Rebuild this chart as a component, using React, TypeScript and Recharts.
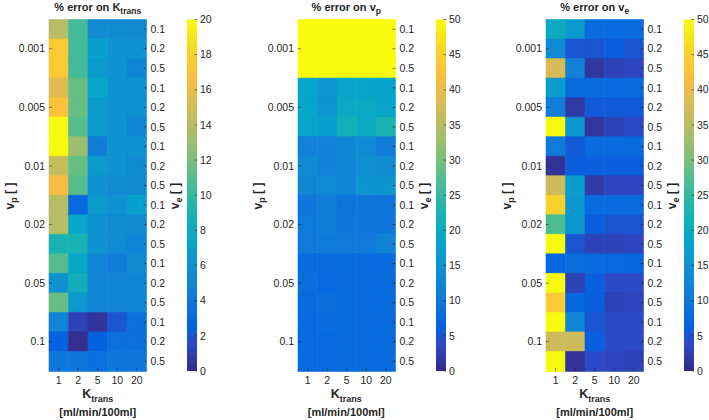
import React from "react";
import { BarChart, Bar, XAxis, YAxis, Cell } from "recharts";

// axis categories
const vpLabels = ["0.001", "0.005", "0.01", "0.02", "0.05", "0.1"];
const veLabels = ["0.1", "0.2", "0.5"];
const ktransLabels = ["1", "2", "5", "10", "20"];

// % error, one row per (vp, ve), columns = Ktrans 1,2,5,10,20
const ktransErr = [
  [14, 10.5, 5.5, 5.5, 5.5],
  [17.5, 10.5, 7, 6, 6],
  [17.5, 10.5, 6.5, 6, 5],
  [15.5, 11.5, 7.5, 6, 6],
  [17, 11.5, 6.5, 6, 6],
  [20, 11, 6.5, 6, 5],
  [20, 13, 4.5, 6, 6],
  [14.5, 11.5, 6.5, 6, 5.5],
  [16.5, 11, 6, 5.5, 5.5],
  [14, 3, 6.5, 6, 7],
  [14, 7.5, 6, 5.5, 5.5],
  [9, 9, 6, 5.5, 5],
  [11, 7.5, 5, 4.5, 5.5],
  [6, 8.5, 5, 5, 5],
  [11.5, 6.5, 5, 5, 5],
  [5, 1.2, 0.5, 2, 3.5],
  [2.5, 0.2, 2.5, 3.5, 3.5],
  [4, 4, 3.5, 4, 4],
];

const vpErr = [
  [50, 50, 50, 50, 50],
  [50, 50, 50, 50, 50],
  [50, 50, 50, 50, 50],
  [18.5, 15.5, 18.5, 18.5, 18],
  [18.5, 15.5, 19.5, 19.5, 18.5],
  [18.5, 17.5, 21.5, 19.5, 22.5],
  [12, 12, 13, 13.5, 11],
  [13.5, 12, 12.5, 14.5, 14],
  [13, 13.5, 12.5, 15.5, 15.5],
  [10, 11, 9, 10, 9.5],
  [10.5, 11, 10, 10, 10],
  [10.5, 10.5, 10.5, 10.5, 12],
  [8, 8, 8, 8, 8],
  [8.5, 7.5, 8, 8, 8],
  [8, 8.5, 8, 8, 8],
  [7.5, 8, 8, 8, 8],
  [7.5, 7.5, 8, 8, 8],
  [7.5, 7.5, 8, 8, 8],
];

const veErr = [
  [20, 16.5, 8, 8, 8],
  [13.5, 5, 5, 6, 5],
  [38, 12, 1.5, 3, 3.5],
  [17, 8, 8, 8, 8],
  [11, 2, 5.5, 5.5, 5.5],
  [50, 16, 1.5, 3, 4],
  [10.5, 5.5, 8, 8, 8],
  [1, 6, 6, 6, 6],
  [37, 17, 2, 3.5, 3.5],
  [45, 16, 8, 8, 8],
  [27, 16, 6, 5, 5],
  [50, 5, 3, 3, 3.5],
  [7, 8.5, 8, 7.5, 7],
  [50, 3, 6, 4, 4],
  [44, 7, 6, 3, 3.5],
  [50, 12.5, 5, 4, 4],
  [37, 37, 6, 4, 4],
  [50, 1, 4, 3.5, 3],
];

// colorbar ticks
const ticks20 = [0, 2, 4, 6, 8, 10, 12, 14, 16, 18, 20];
const ticks50 = [0, 5, 10, 15, 20, 25, 30, 35, 40, 45, 50];

// parula colormap stops (index out of 63, rgb)
const PARULA: [number, number[]][] = [
  [0, [53, 42, 135]],
  [5, [44, 74, 199]],
  [8, [3, 99, 225]],
  [13, [16, 121, 218]],
  [18, [16, 142, 210]],
  [23, [6, 164, 202]],
  [28, [21, 177, 180]],
  [33, [66, 187, 152]],
  [38, [124, 191, 123]],
  [43, [174, 190, 103]],
  [48, [217, 186, 86]],
  [53, [253, 190, 61]],
  [58, [247, 216, 38]],
  [63, [249, 251, 14]],
];

function parula(t: number) {
  const p = Math.max(0, Math.min(1, t)) * 63;
  let k = 0;
  while (k < PARULA.length - 2 && PARULA[k + 1][0] < p) k++;
  const [a, ca] = PARULA[k];
  const [b, cb] = PARULA[k + 1];
  const f = (p - a) / (b - a);
  const c = ca.map((v, i) => Math.round(v + (cb[i] - v) * f));
  return `rgb(${c[0]},${c[1]},${c[2]})`;
}

const rows = vpLabels.flatMap((vp, i) =>
  veLabels.map((ve, j) => ({ id: `${i}-${j}`, vp, ve, c0: 1, c1: 1, c2: 1, c3: 1, c4: 1 }))
);
const rowById: Record<string, { vp: string; ve: string }> = {};
rows.forEach((r) => (rowById[r.id] = r));

const INK = "#262626";
const FONT = "'Liberation Sans', Arial, sans-serif";
const TOP = 19.5;
const BOTTOM = 371;

const LeftTick = (props: any) => {
  const { x, y, payload } = props;
  const r = rowById[payload.value];
  if (!r || r.ve !== veLabels[1]) return <g />;
  return (
    <g>
      <text x={x} y={y} dy="0.35em" textAnchor="end" fontSize={10.5} fill={INK}>{r.vp}</text>
      <line x1={x + 4} x2={x + 7} y1={y} y2={y} stroke={INK} strokeWidth={0.6} />
    </g>
  );
};

const RightTick = (props: any) => {
  const { x, y, payload } = props;
  const r = rowById[payload.value];
  if (!r) return <g />;
  return (
    <g>
      <text x={x} y={y} dy="0.35em" textAnchor="start" fontSize={10.5} fill={INK}>{r.ve}</text>
      <line x1={x - 4} x2={x - 7} y1={y} y2={y} stroke={INK} strokeWidth={0.6} />
    </g>
  );
};

const BottomTick = (props: any) => {
  const { x, y, payload } = props;
  return (
    <g>
      <text x={x} y={y} dy="0.71em" textAnchor="middle" fontSize={10.5} fill={INK}>
        {ktransLabels[Math.floor(payload.value)]}
      </text>
      <line x1={x} x2={x} y1={y - 5.5} y2={y - 8.5} stroke={INK} strokeWidth={0.6} />
    </g>
  );
};

const TopTick = (props: any) => {
  const { x, y } = props;
  return <line x1={x} x2={x} y1={y} y2={y + 3} stroke={INK} strokeWidth={0.6} />;
};

const CbTick = (props: any) => {
  const { x, y, payload } = props;
  return (
    <g>
      <text x={x} y={y} dy="0.35em" textAnchor="start" fontSize={10.5} fill={INK}>{payload.value}</text>
      <line x1={x - 3} x2={x - 5.5} y1={y} y2={y} stroke={INK} strokeWidth={0.6} />
    </g>
  );
};

const colTicks = [0.5, 1.5, 2.5, 3.5, 4.5];

function Heatmap({ ox, values, max }: { ox: number; values: number[][]; max: number }) {
  return (
    <div style={{ position: "absolute", left: ox, top: 0 }}>
      <BarChart
        width={200}
        height={420}
        data={rows}
        layout="vertical"
        barCategoryGap={0}
        barGap={0}
        margin={{ top: TOP, bottom: 420 - BOTTOM - 20, left: 5, right: 23.5 }}
      >
        <XAxis xAxisId="b" type="number" domain={[0, 5]} ticks={colTicks} interval={0} height={20}
          tickSize={0} tickMargin={5.5} axisLine={false} tickLine={false} tick={<BottomTick />} />
        <XAxis xAxisId="t" orientation="top" type="number" domain={[0, 5]} ticks={colTicks} interval={0} height={0}
          tickSize={0} tickMargin={0} axisLine={false} tickLine={false} tick={<TopTick />} />
        <YAxis yAxisId="vp" type="category" dataKey="id" width={44} interval={0}
          tickSize={0} tickMargin={4} axisLine={false} tickLine={false} tick={<LeftTick />} />
        <YAxis yAxisId="ve" orientation="right" type="category" dataKey="id" width={30} interval={0}
          tickSize={0} tickMargin={4} axisLine={false} tickLine={false} tick={<RightTick />} />
        {ktransLabels.map((k, j) => (
          <Bar key={k} dataKey={`c${j}`} stackId="s" xAxisId="b" yAxisId="vp" isAnimationActive={false}>
            {rows.map((r, i) => {
              const fill = parula(values[i][j] / max);
              return <Cell key={r.id} fill={fill} stroke={fill} strokeWidth={0.6} />;
            })}
          </Bar>
        ))}
      </BarChart>
    </div>
  );
}

function ColorBar({ ox, max, ticks, gid }: { ox: number; max: number; ticks: number[]; gid: string }) {
  return (
    <div style={{ position: "absolute", left: ox + 187, top: 0 }}>
      <BarChart width={40} height={420} data={[{ k: "c", v: max }]} barCategoryGap={0}
        margin={{ top: TOP, bottom: 420 - BOTTOM, left: 0, right: 0 }}>
        <defs>
          <linearGradient id={gid} x1="0" y1="1" x2="0" y2="0">
            {PARULA.map(([p, c]) => (
              <stop key={p} offset={p / 63} stopColor={`rgb(${c[0]},${c[1]},${c[2]})`} />
            ))}
          </linearGradient>
        </defs>
        <XAxis dataKey="k" type="category" hide />
        <YAxis orientation="right" type="number" width={30} domain={[0, max]} ticks={ticks} interval={0}
          tickSize={0} tickMargin={3} axisLine={false} tickLine={false} tick={<CbTick />} />
        <Bar dataKey="v" fill={`url(#${gid})`} isAnimationActive={false} />
      </BarChart>
    </div>
  );
}

const sub = (s: string, size = 8.5, top = 3) => (
  <span style={{ fontSize: size, position: "relative", top }}>{s}</span>
);

function Labels({ ox, what }: { ox: number; what: React.ReactNode }) {
  const bold: React.CSSProperties = { position: "absolute", fontWeight: "bold", color: INK, whiteSpace: "nowrap", lineHeight: 1 };
  return (
    <>
      <div style={{ ...bold, left: ox + 49, width: 97.5, top: 1.5, textAlign: "center", fontSize: 11 }}>
        % error on {what}
      </div>
      <div style={{ ...bold, left: ox + 9.5, top: 196, fontSize: 12, transform: "translate(-50%,-50%) rotate(-90deg)" }}>
        v{sub("p", 9, 3)} [ ]
      </div>
      <div style={{ ...bold, left: ox + 175, top: 196, fontSize: 12, transform: "translate(-50%,-50%) rotate(-90deg)" }}>
        v{sub("e", 9, 3)} [ ]
      </div>
      <div style={{ ...bold, left: ox + 49, width: 97.5, top: 388, textAlign: "center", fontSize: 12.5 }}>
        K{sub("trans", 9, 4)}
      </div>
      <div style={{ ...bold, left: ox + 49, width: 97.5, top: 407, textAlign: "center", fontSize: 11 }}>
        [ml/min/100ml]
      </div>
    </>
  );
}

export default function App() {
  const panels = [0, 248.5, 497];
  return (
    <div style={{ position: "absolute", left: 0, top: 0, width: 709, height: 420, background: "#fff", fontFamily: FONT, overflow: "hidden" }}>
      <Heatmap ox={panels[0]} values={ktransErr} max={20} />
      <ColorBar ox={panels[0]} max={20} ticks={ticks20} gid="cb0" />
      <Labels ox={panels[0]} what={<>K{sub("trans")}</>} />

      <Heatmap ox={panels[1]} values={vpErr} max={50} />
      <ColorBar ox={panels[1]} max={50} ticks={ticks50} gid="cb1" />
      <Labels ox={panels[1]} what={<>v{sub("p")}</>} />

      <Heatmap ox={panels[2]} values={veErr} max={50} />
      <ColorBar ox={panels[2]} max={50} ticks={ticks50} gid="cb2" />
      <Labels ox={panels[2]} what={<>v{sub("e")}</>} />
    </div>
  );
}
